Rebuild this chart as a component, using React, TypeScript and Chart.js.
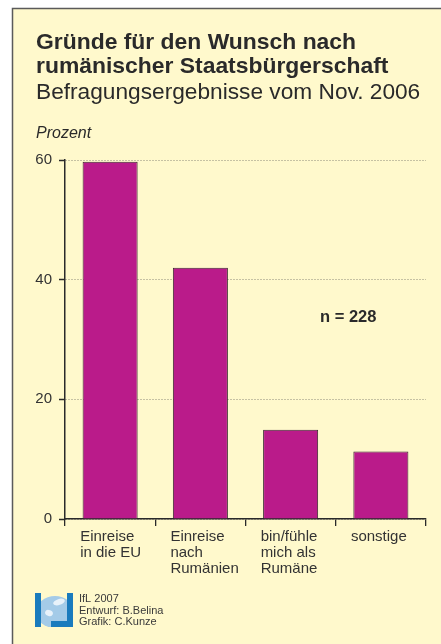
import React, { useEffect, useRef } from 'react';
import { Chart, registerables } from 'chart.js';

Chart.register(...registerables);

const categories: string[][] = [
  ['Einreise', 'in die EU'],
  ['Einreise', 'nach', 'Rumänien'],
  ['bin/fühle', 'mich als', 'Rumäne'],
  ['sonstige'],
];
const values: number[] = [59.7, 42, 14.9, 11.3];
const yTicks: number[] = [0, 20, 40, 60];
const titleLines: string[] = ['Gründe für den Wunsch nach', 'rumänischer Staatsbürgerschaft'];
const subtitle = 'Befragungsergebnisse vom Nov. 2006';
const unitLabel = 'Prozent';
const sampleNote = 'n = 228';
const credits: string[] = ['IfL 2007', 'Entwurf: B.Belina', 'Grafik: C.Kunze'];

const FONT = "'Liberation Sans', Arial, Helvetica, sans-serif";
const BG = '#FFF9CC';
const BAR = '#BA1B8A';
const INK = '#2a2a2a';

const decorPlugin = {
  id: 'decor',
  beforeDraw(chart: any) {
    const ctx = chart.ctx;
    const W = chart.width;
    const H = chart.height;
    ctx.save();
    ctx.fillStyle = '#ffffff';
    ctx.fillRect(0, 0, W, H);
    ctx.fillStyle = BG;
    ctx.fillRect(12, 8, W - 12, H - 8);
    ctx.strokeStyle = '#5a5a5a';
    ctx.lineWidth = 1.5;
    ctx.beginPath();
    ctx.moveTo(12.5, H);
    ctx.lineTo(12.5, 8.5);
    ctx.lineTo(W, 8.5);
    ctx.stroke();
    ctx.restore();
  },
  afterDraw(chart: any) {
    const ctx = chart.ctx;
    ctx.save();
    ctx.fillStyle = INK;
    ctx.textAlign = 'left';
    ctx.textBaseline = 'alphabetic';
    ctx.font = `bold 22.9px ${FONT}`;
    ctx.fillText(titleLines[0], 36, 49);
    ctx.fillText(titleLines[1], 36, 73);
    ctx.font = `22.7px ${FONT}`;
    ctx.fillText(subtitle, 36, 98.5);
    ctx.font = `italic 16px ${FONT}`;
    ctx.fillText(unitLabel, 36, 138);
    ctx.font = `bold 16.5px ${FONT}`;
    ctx.fillText(sampleNote, 320, 321.5);

    // logo
    const lx = 35, ly = 593, lw = 38, lh = 34;
    ctx.save();
    ctx.beginPath();
    ctx.rect(lx, ly, lw, lh);
    ctx.clip();
    ctx.fillStyle = '#a4cbe8';
    ctx.beginPath();
    ctx.ellipse(lx + lw / 2 + 1, ly + lh / 2 + 2, 19, 16, 0, 0, Math.PI * 2);
    ctx.fill();
    ctx.fillStyle = '#e8f2fa';
    ctx.beginPath();
    ctx.ellipse(lx + 24, ly + 9, 6, 3, -0.3, 0, Math.PI * 2);
    ctx.fill();
    ctx.beginPath();
    ctx.ellipse(lx + 14, ly + 20, 4, 3, 0.4, 0, Math.PI * 2);
    ctx.fill();
    ctx.restore();
    ctx.fillStyle = '#1a7bbd';
    ctx.fillRect(lx, ly, 6, lh);
    ctx.fillRect(lx + lw - 6, ly, 6, lh);
    ctx.fillRect(lx + 16, ly + lh - 6, lw - 16, 6);

    ctx.fillStyle = '#3a3a3a';
    ctx.font = `11px ${FONT}`;
    ctx.fillText(credits[0], 79, 602);
    ctx.fillText(credits[1], 79, 613.5);
    ctx.fillText(credits[2], 79, 625);
    ctx.restore();
  },
};

export default function App() {
  const ref = useRef<HTMLCanvasElement | null>(null);

  useEffect(() => {
    if (!ref.current) return;
    const chart = new Chart(ref.current, {
      type: 'bar',
      data: {
        labels: categories,
        datasets: [
          {
            data: values,
            backgroundColor: BAR,
            borderColor: '#3a2630',
            borderWidth: 1,
            categoryPercentage: 1,
            barPercentage: 0.61,
          },
        ],
      },
      options: {
        responsive: false,
        animation: false,
        devicePixelRatio: 1,
        layout: { padding: { left: 0, top: 160, right: 15, bottom: 65 } },
        plugins: {
          legend: { display: false },
          title: { display: false },
          tooltip: { enabled: false },
        },
        scales: {
          x: {
            type: 'category',
            grid: {
              display: true,
              offset: true,
              drawOnChartArea: false,
              drawTicks: true,
              tickLength: 7,
              color: '#2a2a2a',
              tickColor: '#2a2a2a',
              lineWidth: 1.3,
            },
            border: { display: true, color: '#2a2a2a', width: 1.5 },
            ticks: {
              align: 'start',
              labelOffset: -30,
              padding: 3,
              maxRotation: 0,
              autoSkip: false,
              color: '#333333',
              font: { family: FONT, size: 15, lineHeight: 16 / 15 },
            },
            afterFit(scale: any) {
              scale.height = 60;
              scale.paddingLeft = 0;
              scale.paddingRight = 0;
            },
          },
          y: {
            min: yTicks[0],
            max: yTicks[yTicks.length - 1],
            afterBuildTicks(scale: any) {
              scale.ticks = yTicks.map((v) => ({ value: v }));
            },
            grid: {
              display: true,
              drawOnChartArea: true,
              drawTicks: true,
              tickLength: 6,
              color: '#8c8a7a',
              lineWidth: 1,
              tickColor: '#2a2a2a',
              tickWidth: 1.5,
              tickBorderDash: [],
            },
            border: { display: true, color: '#2a2a2a', width: 1.5, dash: [1, 2] },
            ticks: {
              padding: 7,
              color: '#333333',
              font: { family: FONT, size: 15 },
            },
            afterFit(scale: any) {
              scale.width = 65;
            },
          },
        },
      },
      plugins: [decorPlugin],
    });
    return () => chart.destroy();
  }, []);

  return (
    <div style={{ position: 'absolute', left: 0, top: 0, width: 441, height: 644 }}>
      <canvas ref={ref} width={441} height={644} style={{ display: 'block', width: 441, height: 644 }} />
    </div>
  );
}
